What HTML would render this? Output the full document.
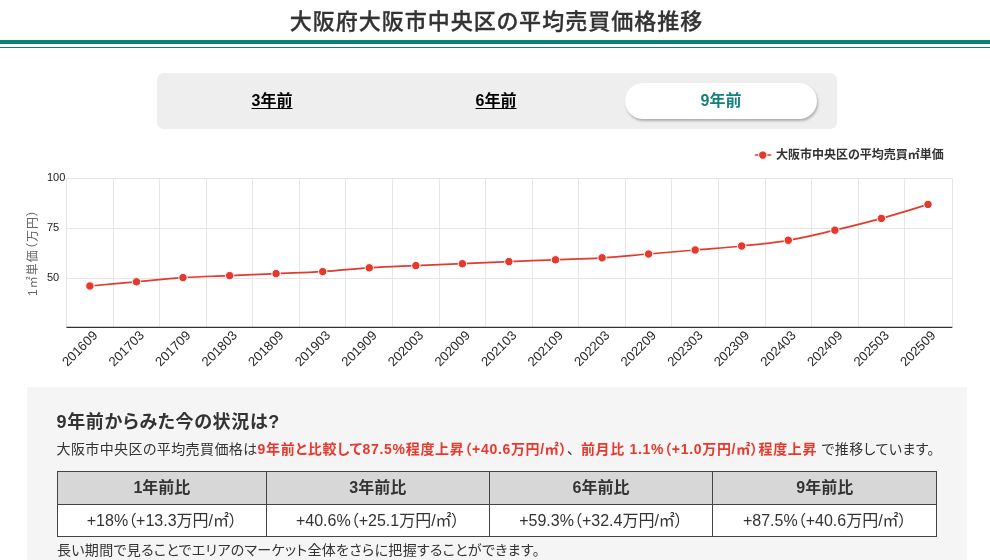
<!DOCTYPE html>
<html lang="ja">
<head>
<meta charset="utf-8">
<title>大阪府大阪市中央区の平均売買価格推移</title>
<style>
html,body{margin:0;padding:0;background:#fff;}
body{width:990px;height:560px;overflow:hidden;position:relative;font-family:"Liberation Sans","Noto Sans CJK JP",sans-serif;color:#333;font-feature-settings:"palt";}
.title{position:absolute;left:0;top:0;width:990px;height:40px;text-align:center;font-size:22px;font-weight:500;letter-spacing:1.02px;line-height:40px;color:#333;white-space:nowrap;text-indent:3px;}
.title span{position:relative;top:2.3px;-webkit-text-stroke:.3px #333;}
.rule1{position:absolute;left:0;top:40px;width:990px;height:4px;background:#0b7f7c;}
.rule2{position:absolute;left:0;top:46.6px;width:990px;height:1.4px;background:#0b7f7c;}
.tabs{position:absolute;left:157px;top:73px;width:680px;height:56px;background:#eeeeee;border-radius:7px;}
.tab{position:absolute;top:9.8px;height:36.3px;width:192px;line-height:35px;text-align:center;font-size:16px;font-weight:bold;color:#000;border-radius:18px;}
.tab span{text-decoration:underline;text-underline-offset:2px;}
.tab.on{background:#fff;color:#13807d;box-shadow:1px 2px 2.5px rgba(0,0,0,.27);}
.tab.on span{text-decoration:none;}
.chart{position:absolute;left:0;top:140px;}
.chart text{font-family:"Liberation Sans","Noto Sans CJK JP",sans-serif;}
.yl{font-size:11px;fill:#1a1a1a;}
.yt{font-size:12px;fill:#666;letter-spacing:1.05px;}
.xl{font-size:13.1px;fill:#262626;}
.lg{font-size:12px;font-weight:bold;fill:#333;}
.panel{position:absolute;left:27px;top:387px;width:940px;height:173px;background:#f5f5f5;}
.h{position:absolute;left:29.5px;top:20.8px;font-size:18px;font-weight:bold;line-height:28px;white-space:nowrap;color:#333;letter-spacing:.65px;}
.p{position:absolute;left:29.5px;top:50px;font-size:14px;line-height:24px;white-space:nowrap;color:#333;letter-spacing:.4px;}
.p b{color:#e5392e;font-weight:bold;letter-spacing:.68px;}
table{position:absolute;left:30px;top:84px;border-collapse:collapse;table-layout:fixed;width:880px;}
td,th{border:1px solid #444;text-align:center;font-size:16px;height:27px;padding:0 0 4px;white-space:nowrap;}
th{background:#d7d7d7;font-weight:bold;height:27.5px;padding-bottom:4.5px;}
td{background:#fff;font-weight:normal;}
.f{position:absolute;left:30px;top:151px;font-size:14px;line-height:24px;white-space:nowrap;color:#333;letter-spacing:.32px;}
</style>
</head>
<body>
<div class="title"><span>大阪府大阪市中央区の平均売買価格推移</span></div>
<div class="rule1"></div><div class="rule2"></div>
<div class="tabs">
<div class="tab" style="left:19px"><span>3年前</span></div>
<div class="tab" style="left:243px"><span>6年前</span></div>
<div class="tab on" style="left:468px"><span>9年前</span></div>
</div>
<svg class="chart" width="990" height="250" viewBox="0 140 990 250">
<path d="M66.5 178.5V327.5M113.5 178.5V327.5M159.5 178.5V327.5M206.5 178.5V327.5M252.5 178.5V327.5M299.5 178.5V327.5M345.5 178.5V327.5M392.5 178.5V327.5M439.5 178.5V327.5M485.5 178.5V327.5M532.5 178.5V327.5M578.5 178.5V327.5M625.5 178.5V327.5M671.5 178.5V327.5M718.5 178.5V327.5M765.5 178.5V327.5M811.5 178.5V327.5M858.5 178.5V327.5M904.5 178.5V327.5M952.5 178.5V327.5M66.5 178.5H952.5M66.5 228.5H952.5M66.5 278.5H952.5" stroke="#e6e6e6" stroke-width="1" fill="none"/>
<path d="M66.5 327.3H952.3" stroke="#333" stroke-width="1.3" fill="none"/>
<text x="47" y="180.9" class="yl">100</text>
<text x="47" y="230.9" class="yl">75</text>
<text x="47" y="280.9" class="yl">50</text>
<text class="yt" transform="translate(36.5,252.5) rotate(-90)" text-anchor="middle">1㎡単価（万円）</text>
<text class="xl" transform="translate(98.3,336.2) rotate(-45)" text-anchor="end">201609</text>
<text class="xl" transform="translate(144.9,336.2) rotate(-45)" text-anchor="end">201703</text>
<text class="xl" transform="translate(191.4,336.2) rotate(-45)" text-anchor="end">201709</text>
<text class="xl" transform="translate(238.0,336.2) rotate(-45)" text-anchor="end">201803</text>
<text class="xl" transform="translate(284.5,336.2) rotate(-45)" text-anchor="end">201809</text>
<text class="xl" transform="translate(331.1,336.2) rotate(-45)" text-anchor="end">201903</text>
<text class="xl" transform="translate(377.7,336.2) rotate(-45)" text-anchor="end">201909</text>
<text class="xl" transform="translate(424.2,336.2) rotate(-45)" text-anchor="end">202003</text>
<text class="xl" transform="translate(470.8,336.2) rotate(-45)" text-anchor="end">202009</text>
<text class="xl" transform="translate(517.3,336.2) rotate(-45)" text-anchor="end">202103</text>
<text class="xl" transform="translate(563.9,336.2) rotate(-45)" text-anchor="end">202109</text>
<text class="xl" transform="translate(610.5,336.2) rotate(-45)" text-anchor="end">202203</text>
<text class="xl" transform="translate(657.0,336.2) rotate(-45)" text-anchor="end">202209</text>
<text class="xl" transform="translate(703.6,336.2) rotate(-45)" text-anchor="end">202303</text>
<text class="xl" transform="translate(750.1,336.2) rotate(-45)" text-anchor="end">202309</text>
<text class="xl" transform="translate(796.7,336.2) rotate(-45)" text-anchor="end">202403</text>
<text class="xl" transform="translate(843.3,336.2) rotate(-45)" text-anchor="end">202409</text>
<text class="xl" transform="translate(889.8,336.2) rotate(-45)" text-anchor="end">202503</text>
<text class="xl" transform="translate(936.4,336.2) rotate(-45)" text-anchor="end">202509</text>
<path d="M 89.90 286.00 C 89.90 286.00 117.84 283.48 136.46 281.80 C 155.08 280.12 164.40 278.84 183.02 277.60 C 201.64 276.36 210.96 276.40 229.58 275.60 C 248.20 274.80 257.52 274.40 276.14 273.60 C 294.76 272.80 304.08 272.76 322.70 271.60 C 341.32 270.44 350.64 269.00 369.26 267.80 C 387.88 266.60 397.20 266.42 415.82 265.60 C 434.44 264.78 443.76 264.50 462.38 263.70 C 481.00 262.90 490.32 262.38 508.94 261.60 C 527.56 260.82 536.88 260.56 555.50 259.80 C 574.12 259.04 583.44 258.96 602.06 257.80 C 620.68 256.64 630.00 255.56 648.62 254.00 C 667.24 252.44 676.56 251.60 695.18 250.00 C 713.80 248.40 723.12 247.94 741.74 246.00 C 760.36 244.06 769.68 243.46 788.30 240.30 C 806.92 237.14 816.24 234.58 834.86 230.20 C 853.48 225.82 862.80 223.56 881.42 218.40 C 900.04 213.24 927.98 204.40 927.98 204.40" stroke="#e5392e" stroke-width="1.7" fill="none" stroke-linejoin="round" stroke-linecap="round"/>
<circle cx="89.9" cy="286.0" r="4.2" fill="#e5392e" stroke="#fff" stroke-width="1"/>
<circle cx="136.5" cy="281.8" r="4.2" fill="#e5392e" stroke="#fff" stroke-width="1"/>
<circle cx="183.0" cy="277.6" r="4.2" fill="#e5392e" stroke="#fff" stroke-width="1"/>
<circle cx="229.6" cy="275.6" r="4.2" fill="#e5392e" stroke="#fff" stroke-width="1"/>
<circle cx="276.1" cy="273.6" r="4.2" fill="#e5392e" stroke="#fff" stroke-width="1"/>
<circle cx="322.7" cy="271.6" r="4.2" fill="#e5392e" stroke="#fff" stroke-width="1"/>
<circle cx="369.3" cy="267.8" r="4.2" fill="#e5392e" stroke="#fff" stroke-width="1"/>
<circle cx="415.8" cy="265.6" r="4.2" fill="#e5392e" stroke="#fff" stroke-width="1"/>
<circle cx="462.4" cy="263.7" r="4.2" fill="#e5392e" stroke="#fff" stroke-width="1"/>
<circle cx="508.9" cy="261.6" r="4.2" fill="#e5392e" stroke="#fff" stroke-width="1"/>
<circle cx="555.5" cy="259.8" r="4.2" fill="#e5392e" stroke="#fff" stroke-width="1"/>
<circle cx="602.1" cy="257.8" r="4.2" fill="#e5392e" stroke="#fff" stroke-width="1"/>
<circle cx="648.6" cy="254.0" r="4.2" fill="#e5392e" stroke="#fff" stroke-width="1"/>
<circle cx="695.2" cy="250.0" r="4.2" fill="#e5392e" stroke="#fff" stroke-width="1"/>
<circle cx="741.7" cy="246.0" r="4.2" fill="#e5392e" stroke="#fff" stroke-width="1"/>
<circle cx="788.3" cy="240.3" r="4.2" fill="#e5392e" stroke="#fff" stroke-width="1"/>
<circle cx="834.9" cy="230.2" r="4.2" fill="#e5392e" stroke="#fff" stroke-width="1"/>
<circle cx="881.4" cy="218.4" r="4.2" fill="#e5392e" stroke="#fff" stroke-width="1"/>
<circle cx="928.0" cy="204.4" r="4.2" fill="#e5392e" stroke="#fff" stroke-width="1"/>
<path d="M755.5 155H770.5" stroke="#e5392e" stroke-width="1.7" stroke-linecap="round"/>
<circle cx="762.8" cy="155.1" r="4.2" fill="#e5392e" stroke="#fff" stroke-width="1"/>
<text class="lg" x="776" y="159">大阪市中央区の平均売買㎡単価</text>
</svg>
<div class="panel">
<div class="h">9年前からみた今の状況は?</div>
<div class="p">大阪市中央区の平均売買価格は<b>9年前と比較して87.5%程度上昇（+40.6万円/㎡）</b><span style="margin-right:6.3px">、</span><b>前月比 1.1%（+1.0万円/㎡）程度上昇</b> で推移しています。</div>
<table>
<colgroup><col style="width:208.8px"><col style="width:223px"><col style="width:223.5px"><col style="width:224px"></colgroup>
<tr><th>1年前比</th><th>3年前比</th><th>6年前比</th><th>9年前比</th></tr>
<tr><td>+18%（+13.3万円/㎡）</td><td>+40.6%（+25.1万円/㎡）</td><td>+59.3%（+32.4万円/㎡）</td><td>+87.5%（+40.6万円/㎡）</td></tr>
</table>
<div class="f">長い期間で見ることでエリアのマーケット全体をさらに把握することができます。</div>
</div>
</body>
</html>
